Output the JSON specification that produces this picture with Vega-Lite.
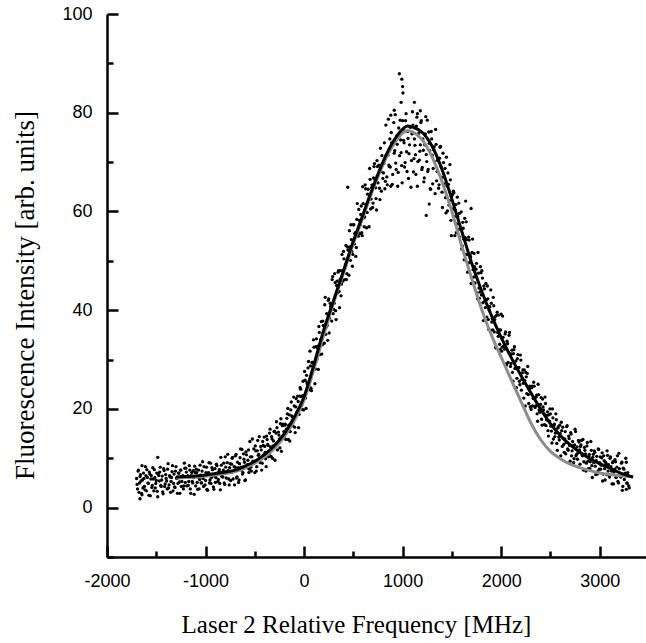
{
"$schema": "https://vega.github.io/schema/vega-lite/v6.json",
"width": 539, "height": 543,
"autosize": "none",
"padding": {"left": 107, "top": 14, "right": 0, "bottom": 86},
"background": "white",
"config": {"view": {"stroke": null}},
"datasets": {
"pts": [
{"x":-1700,"y":5.9},{"x":-1690,"y":3.8},{"x":-1680,"y":7.6},{"x":-1670,"y":5.0},{"x":-1660,"y":6.7},{"x":-1650,"y":2.9},{"x":-1640,"y":5.6},{"x":-1630,"y":7.0},{"x":-1620,"y":4.3},{"x":-1610,"y":8.3},{"x":-1600,"y":3.4},{"x":-1590,"y":6.1},{"x":-1580,"y":4.9},{"x":-1570,"y":7.2},{"x":-1560,"y":2.4},{"x":-1550,"y":6.5},{"x":-1540,"y":4.5},{"x":-1530,"y":5.8},{"x":-1520,"y":7.7},{"x":-1510,"y":4.0},{"x":-1500,"y":5.5},{"x":-1490,"y":3.3},{"x":-1480,"y":6.9},{"x":-1470,"y":5.4},{"x":-1460,"y":8.2},{"x":-1450,"y":4.3},{"x":-1440,"y":6.4},{"x":-1430,"y":2.8},{"x":-1420,"y":7.5},{"x":-1410,"y":4.8},{"x":-1400,"y":5.9},{"x":-1390,"y":3.8},{"x":-1380,"y":8.9},{"x":-1370,"y":4.6},{"x":-1360,"y":6.2},{"x":-1350,"y":5.3},{"x":-1340,"y":7.3},{"x":-1330,"y":3.4},{"x":-1320,"y":6.8},{"x":-1310,"y":4.1},{"x":-1300,"y":8.3},{"x":-1290,"y":5.9},{"x":-1280,"y":4.9},{"x":-1270,"y":7.0},{"x":-1260,"y":2.9},{"x":-1250,"y":7.6},{"x":-1240,"y":5.3},{"x":-1230,"y":6.5},{"x":-1220,"y":4.4},{"x":-1210,"y":8.0},
{"x":-1200,"y":8.0},{"x":-1190,"y":4.4},{"x":-1180,"y":6.5},{"x":-1170,"y":5.3},{"x":-1160,"y":7.6},{"x":-1150,"y":2.9},{"x":-1140,"y":7.1},{"x":-1130,"y":5.0},{"x":-1120,"y":6.1},{"x":-1110,"y":8.4},{"x":-1100,"y":4.4},{"x":-1090,"y":7.1},{"x":-1080,"y":3.7},{"x":-1070,"y":7.6},{"x":-1060,"y":5.7},{"x":-1050,"y":6.6},{"x":-1040,"y":5.0},{"x":-1030,"y":9.3},{"x":-1020,"y":4.3},{"x":-1010,"y":6.5},{"x":-1000,"y":5.5},{"x":-990,"y":8.2},{"x":-980,"y":3.5},{"x":-970,"y":7.1},{"x":-960,"y":5.0},{"x":-950,"y":9.0},{"x":-940,"y":6.1},{"x":-930,"y":7.7},{"x":-920,"y":4.2},{"x":-910,"y":6.4},{"x":-900,"y":5.1},{"x":-890,"y":8.8},{"x":-880,"y":6.9},{"x":-870,"y":5.7},{"x":-860,"y":7.7},{"x":-850,"y":3.6},{"x":-840,"y":8.6},{"x":-830,"y":6.3},{"x":-820,"y":7.6},{"x":-810,"y":5.0},{"x":-800,"y":10.3},{"x":-790,"y":6.0},{"x":-780,"y":9.1},{"x":-770,"y":7.5},{"x":-760,"y":4.6},{"x":-750,"y":8.9},{"x":-740,"y":7.1},{"x":-730,"y":10.0},{"x":-720,"y":5.8},{"x":-710,"y":8.3},
{"x":-700,"y":8.2},{"x":-690,"y":10.8},{"x":-680,"y":6.2},{"x":-670,"y":8.1},{"x":-660,"y":5.6},{"x":-650,"y":10.1},{"x":-640,"y":8.2},{"x":-630,"y":11.8},{"x":-620,"y":7.1},{"x":-610,"y":9.8},{"x":-600,"y":5.5},{"x":-590,"y":11.3},{"x":-580,"y":8.1},{"x":-570,"y":9.6},{"x":-560,"y":7.1},{"x":-550,"y":13.4},{"x":-540,"y":8.2},{"x":-530,"y":10.3},{"x":-520,"y":9.4},{"x":-510,"y":11.9},{"x":-500,"y":7.1},{"x":-490,"y":11.5},{"x":-480,"y":8.3},{"x":-470,"y":13.6},{"x":-460,"y":10.8},{"x":-450,"y":9.7},{"x":-440,"y":12.4},{"x":-430,"y":7.6},{"x":-420,"y":13.4},{"x":-410,"y":10.7},{"x":-400,"y":12.4},{"x":-390,"y":9.9},{"x":-380,"y":14.5},{"x":-370,"y":12.8},{"x":-360,"y":10.3},{"x":-350,"y":15.1},{"x":-340,"y":12.3},{"x":-330,"y":14.4},{"x":-320,"y":10.0},{"x":-310,"y":13.5},{"x":-300,"y":15.5},{"x":-290,"y":12.4},{"x":-280,"y":17.4},{"x":-270,"y":11.7},{"x":-260,"y":15.3},{"x":-250,"y":13.9},{"x":-240,"y":17.0},{"x":-230,"y":11.4},{"x":-220,"y":16.6},{"x":-210,"y":14.4},
{"x":-200,"y":14.3},{"x":-190,"y":16.9},{"x":-180,"y":15.9},{"x":-170,"y":19.0},{"x":-160,"y":13.8},{"x":-150,"y":18.8},{"x":-140,"y":15.4},{"x":-130,"y":21.4},{"x":-120,"y":18.4},{"x":-110,"y":17.3},{"x":-100,"y":20.6},{"x":-90,"y":15.2},{"x":-80,"y":22.1},{"x":-70,"y":19.4},{"x":-60,"y":21.5},{"x":-50,"y":18.9},{"x":-40,"y":24.3},{"x":-30,"y":22.5},{"x":-20,"y":19.9},{"x":-10,"y":25.6},{"x":0,"y":22.4},{"x":10,"y":25.8},{"x":20,"y":20.1},{"x":30,"y":25.3},{"x":40,"y":28.3},{"x":50,"y":24.5},{"x":60,"y":31.7},{"x":70,"y":24.2},{"x":80,"y":29.4},{"x":90,"y":27.9},{"x":100,"y":32.5},{"x":110,"y":25.1},{"x":120,"y":32.6},{"x":130,"y":30.0},{"x":140,"y":32.7},{"x":150,"y":36.7},{"x":160,"y":31.0},{"x":170,"y":34.1},{"x":180,"y":31.1},{"x":190,"y":37.8},{"x":200,"y":35.7},{"x":210,"y":41.1},{"x":220,"y":35.1},{"x":230,"y":39.3},{"x":240,"y":33.9},{"x":250,"y":42.3},{"x":260,"y":38.4},{"x":270,"y":40.8},{"x":280,"y":37.8},{"x":290,"y":46.8},
{"x":300,"y":40.2},{"x":310,"y":47.4},{"x":320,"y":39.9},{"x":330,"y":45.0},{"x":340,"y":43.5},{"x":350,"y":48.0},{"x":360,"y":40.5},{"x":370,"y":48.0},{"x":380,"y":45.3},{"x":390,"y":48.0},{"x":400,"y":51.9},{"x":410,"y":46.2},{"x":420,"y":49.2},{"x":430,"y":46.2},{"x":440,"y":52.8},{"x":450,"y":50.7},{"x":460,"y":56.1},{"x":470,"y":50.1},{"x":480,"y":54.3},{"x":490,"y":48.9},{"x":500,"y":57.3},{"x":510,"y":53.4},{"x":520,"y":55.7},{"x":530,"y":52.7},{"x":540,"y":61.6},{"x":550,"y":55.0},{"x":560,"y":58.2},{"x":570,"y":57.3},{"x":580,"y":61.1},{"x":590,"y":55.1},{"x":600,"y":61.6},{"x":610,"y":56.9},{"x":620,"y":65.4},{"x":630,"y":61.4},{"x":640,"y":59.8},{"x":650,"y":64.5},{"x":660,"y":56.9},{"x":670,"y":66.5},{"x":680,"y":62.5},{"x":690,"y":65.4},{"x":700,"y":61.7},{"x":710,"y":69.1},{"x":720,"y":66.4},{"x":730,"y":62.6},{"x":740,"y":70.3},{"x":750,"y":65.8},{"x":760,"y":69.4},{"x":770,"y":62.4},{"x":780,"y":68.1},{"x":790,"y":71.3},
{"x":800,"y":66.7},{"x":810,"y":69.7},{"x":820,"y":64.6},{"x":830,"y":77.5},{"x":840,"y":67.0},{"x":850,"y":71.4},{"x":860,"y":69.4},{"x":870,"y":74.7},{"x":880,"y":65.1},{"x":890,"y":73.9},{"x":900,"y":67.5},{"x":910,"y":78.0},{"x":920,"y":72.3},{"x":930,"y":69.8},{"x":940,"y":75.3},{"x":950,"y":65.1},{"x":960,"y":76.9},{"x":970,"y":71.3},{"x":980,"y":74.5},{"x":990,"y":69.3},{"x":1000,"y":78.4},{"x":1010,"y":74.4},{"x":1020,"y":69.0},{"x":1030,"y":78.4},{"x":1040,"y":72.1},{"x":1050,"y":76.2},{"x":1060,"y":66.7},{"x":1070,"y":73.5},{"x":1080,"y":77.1},{"x":1090,"y":70.3},{"x":1100,"y":80.2},{"x":1110,"y":68.0},{"x":1120,"y":74.7},{"x":1130,"y":71.5},{"x":1140,"y":77.3},{"x":1150,"y":65.1},{"x":1160,"y":75.4},{"x":1170,"y":70.4},{"x":1180,"y":73.5},{"x":1190,"y":78.4},{"x":1200,"y":68.9},{"x":1210,"y":72.4},{"x":1220,"y":66.8},{"x":1230,"y":75.7},{"x":1240,"y":71.5},{"x":1250,"y":78.5},{"x":1260,"y":68.5},{"x":1270,"y":73.8},{"x":1280,"y":64.6},{"x":1290,"y":76.2},
{"x":1300,"y":71.4},{"x":1310,"y":68.7},{"x":1320,"y":73.1},{"x":1330,"y":63.6},{"x":1340,"y":73.6},{"x":1350,"y":68.1},{"x":1360,"y":70.5},{"x":1370,"y":65.4},{"x":1380,"y":73.0},{"x":1390,"y":69.1},{"x":1400,"y":63.9},{"x":1410,"y":71.8},{"x":1420,"y":65.6},{"x":1430,"y":68.7},{"x":1440,"y":59.7},{"x":1450,"y":65.2},{"x":1460,"y":67.8},{"x":1470,"y":61.3},{"x":1480,"y":69.5},{"x":1490,"y":58.2},{"x":1500,"y":63.2},{"x":1510,"y":60.5},{"x":1520,"y":63.8},{"x":1530,"y":55.1},{"x":1540,"y":61.4},{"x":1550,"y":57.5},{"x":1560,"y":59.0},{"x":1570,"y":61.7},{"x":1580,"y":54.8},{"x":1590,"y":56.6},{"x":1600,"y":52.4},{"x":1610,"y":57.8},{"x":1620,"y":54.4},{"x":1630,"y":58.6},{"x":1640,"y":51.3},{"x":1650,"y":54.3},{"x":1660,"y":47.7},{"x":1670,"y":54.8},{"x":1680,"y":49.7},{"x":1690,"y":50.8},{"x":1700,"y":46.6},{"x":1710,"y":54.4},{"x":1720,"y":46.7},{"x":1730,"y":48.8},{"x":1740,"y":46.8},{"x":1750,"y":49.5},{"x":1760,"y":42.3},{"x":1770,"y":47.5},{"x":1780,"y":42.4},{"x":1790,"y":48.8},
{"x":1800,"y":43.1},{"x":1810,"y":46.5},{"x":1820,"y":37.9},{"x":1830,"y":44.3},{"x":1840,"y":40.5},{"x":1850,"y":42.1},{"x":1860,"y":44.9},{"x":1870,"y":38.1},{"x":1880,"y":40.0},{"x":1890,"y":35.9},{"x":1900,"y":41.4},{"x":1910,"y":38.3},{"x":1920,"y":42.6},{"x":1930,"y":35.6},{"x":1940,"y":38.7},{"x":1950,"y":32.3},{"x":1960,"y":39.6},{"x":1970,"y":34.7},{"x":1980,"y":36.0},{"x":1990,"y":32.0},{"x":2000,"y":39.2},{"x":2010,"y":32.5},{"x":2020,"y":34.5},{"x":2030,"y":32.8},{"x":2040,"y":35.2},{"x":2050,"y":29.1},{"x":2060,"y":33.7},{"x":2070,"y":29.4},{"x":2080,"y":34.9},{"x":2090,"y":31.2},{"x":2100,"y":29.2},{"x":2110,"y":31.9},{"x":2120,"y":25.6},{"x":2130,"y":32.0},{"x":2140,"y":28.2},{"x":2150,"y":29.7},{"x":2160,"y":26.2},{"x":2170,"y":31.0},{"x":2180,"y":28.4},{"x":2190,"y":24.9},{"x":2200,"y":29.9},{"x":2210,"y":26.0},{"x":2220,"y":27.9},{"x":2230,"y":22.2},{"x":2240,"y":25.7},{"x":2250,"y":27.4},{"x":2260,"y":23.1},{"x":2270,"y":28.6},{"x":2280,"y":21.1},{"x":2290,"y":24.6},
{"x":2300,"y":20.4},{"x":2310,"y":24.3},{"x":2320,"y":20.6},{"x":2330,"y":25.4},{"x":2340,"y":22.2},{"x":2350,"y":20.6},{"x":2360,"y":22.8},{"x":2370,"y":17.5},{"x":2380,"y":22.9},{"x":2390,"y":19.6},{"x":2400,"y":20.9},{"x":2410,"y":17.9},{"x":2420,"y":22.0},{"x":2430,"y":19.8},{"x":2440,"y":16.8},{"x":2450,"y":21.1},{"x":2460,"y":17.8},{"x":2470,"y":19.4},{"x":2480,"y":14.5},{"x":2490,"y":17.5},{"x":2500,"y":19.0},{"x":2510,"y":15.5},{"x":2520,"y":20.0},{"x":2530,"y":13.9},{"x":2540,"y":16.9},{"x":2550,"y":15.1},{"x":2560,"y":17.8},{"x":2570,"y":11.6},{"x":2580,"y":16.4},{"x":2590,"y":13.7},{"x":2600,"y":15.0},{"x":2610,"y":17.3},{"x":2620,"y":12.4},{"x":2630,"y":14.0},{"x":2640,"y":11.2},{"x":2650,"y":15.4},{"x":2660,"y":13.2},{"x":2670,"y":16.6},{"x":2680,"y":11.6},{"x":2690,"y":14.0},{"x":2700,"y":9.4},{"x":2710,"y":14.9},{"x":2720,"y":11.5},{"x":2730,"y":12.6},{"x":2740,"y":9.9},{"x":2750,"y":15.9},{"x":2760,"y":10.5},{"x":2770,"y":12.3},{"x":2780,"y":11.1},{"x":2790,"y":13.3},
{"x":2800,"y":8.8},{"x":2810,"y":12.7},{"x":2820,"y":10.7},{"x":2830,"y":13.8},{"x":2840,"y":9.3},{"x":2850,"y":11.6},{"x":2860,"y":7.4},{"x":2870,"y":12.5},{"x":2880,"y":9.4},{"x":2890,"y":10.4},{"x":2900,"y":7.9},{"x":2910,"y":13.4},{"x":2920,"y":8.5},{"x":2930,"y":10.2},{"x":2940,"y":9.1},{"x":2950,"y":11.2},{"x":2960,"y":6.7},{"x":2970,"y":10.4},{"x":2980,"y":7.3},{"x":2990,"y":11.8},{"x":3000,"y":9.1},{"x":3010,"y":7.8},{"x":3020,"y":10.1},{"x":3030,"y":5.4},{"x":3040,"y":10.5},{"x":3050,"y":7.9},{"x":3060,"y":9.2},{"x":3070,"y":6.7},{"x":3080,"y":10.6},{"x":3090,"y":8.7},{"x":3100,"y":6.2},{"x":3110,"y":10.3},{"x":3120,"y":7.4},{"x":3130,"y":9.1},{"x":3140,"y":4.8},{"x":3150,"y":7.8},{"x":3160,"y":9.3},{"x":3170,"y":6.2},{"x":3180,"y":10.5},{"x":3190,"y":5.0},{"x":3200,"y":7.9},{"x":3210,"y":6.4},{"x":3220,"y":9.0},{"x":3230,"y":3.5},{"x":3240,"y":8.0},{"x":3250,"y":5.7},{"x":3260,"y":7.0},{"x":3270,"y":9.2},{"x":3280,"y":4.9},{"x":3290,"y":6.4},{"x":3300,"y":4.0},
{"x":967,"y":87.9},{"x":992,"y":86.8},{"x":1000,"y":85.3},{"x":1003,"y":84.0},{"x":985,"y":82.1},{"x":1120,"y":82.1},{"x":915,"y":80.5},{"x":1150,"y":79.8},{"x":880,"y":79.5},{"x":1180,"y":80.4},{"x":-1485,"y":10.2},{"x":-1665,"y":1.8},{"x":-1645,"y":2.6},{"x":1240,"y":59.2},{"x":1270,"y":61.5},{"x":1695,"y":60.6},{"x":1640,"y":62.1},{"x":443,"y":64.9},{"x":3270,"y":3.7},
{"x":-1695,"y":4.7},{"x":-1685,"y":7.4},{"x":-1675,"y":3.1},{"x":-1665,"y":6.3},{"x":-1655,"y":5.4},{"x":-1645,"y":8.5},{"x":-1635,"y":4.0},{"x":-1625,"y":5.9},{"x":-1615,"y":3.6},{"x":-1605,"y":6.5},{"x":-1595,"y":7.7},{"x":-1585,"y":5.0},{"x":-1575,"y":2.5},{"x":-1565,"y":6.8},{"x":-1555,"y":5.8},{"x":-1545,"y":4.1},{"x":-1535,"y":8.1},{"x":-1525,"y":3.4},{"x":-1515,"y":6.1},{"x":-1505,"y":4.9},{"x":-1495,"y":7.0},{"x":-1485,"y":2.2},{"x":-1475,"y":6.5},{"x":-1465,"y":7.2},{"x":-1455,"y":4.5},{"x":-1445,"y":5.6},{"x":-1435,"y":3.2},{"x":-1425,"y":7.9},{"x":-1415,"y":4.3},{"x":-1405,"y":6.7},{"x":-1395,"y":5.4},{"x":-1385,"y":7.8},{"x":-1375,"y":4.0},{"x":-1365,"y":6.5},{"x":-1355,"y":3.1},{"x":-1345,"y":6.1},{"x":-1335,"y":8.5},{"x":-1325,"y":4.9},{"x":-1315,"y":4.2},{"x":-1305,"y":7.4},{"x":-1295,"y":6.0},{"x":-1285,"y":2.9},{"x":-1275,"y":7.0},{"x":-1265,"y":5.2},{"x":-1255,"y":7.6},{"x":-1245,"y":4.3},{"x":-1235,"y":6.3},{"x":-1225,"y":3.8},{"x":-1215,"y":9.0},{"x":-1205,"y":5.1},
{"x":-1195,"y":7.2},{"x":-1185,"y":6.2},{"x":-1175,"y":4.5},{"x":-1165,"y":8.5},{"x":-1155,"y":3.8},{"x":-1145,"y":6.5},{"x":-1135,"y":5.3},{"x":-1125,"y":7.5},{"x":-1115,"y":2.7},{"x":-1105,"y":7.1},{"x":-1095,"y":7.8},{"x":-1085,"y":5.1},{"x":-1075,"y":6.2},{"x":-1065,"y":3.8},{"x":-1055,"y":8.6},{"x":-1045,"y":5.0},{"x":-1035,"y":7.4},{"x":-1025,"y":5.9},{"x":-1015,"y":8.3},{"x":-1005,"y":4.6},{"x":-995,"y":7.1},{"x":-985,"y":3.7},{"x":-975,"y":6.7},{"x":-965,"y":9.1},{"x":-955,"y":5.6},{"x":-945,"y":4.9},{"x":-935,"y":8.1},{"x":-925,"y":6.7},{"x":-915,"y":3.7},{"x":-905,"y":7.9},{"x":-895,"y":6.1},{"x":-885,"y":8.5},{"x":-875,"y":5.3},{"x":-865,"y":7.3},{"x":-855,"y":4.9},{"x":-845,"y":10.2},{"x":-835,"y":6.3},{"x":-825,"y":6.2},{"x":-815,"y":9.0},{"x":-805,"y":4.7},{"x":-795,"y":8.2},{"x":-785,"y":7.3},{"x":-775,"y":10.8},{"x":-765,"y":5.8},{"x":-755,"y":8.1},{"x":-745,"y":5.5},{"x":-735,"y":8.8},{"x":-725,"y":10.2},{"x":-715,"y":7.3},{"x":-705,"y":4.6},
{"x":-695,"y":10.5},{"x":-685,"y":6.0},{"x":-675,"y":9.2},{"x":-665,"y":5.1},{"x":-655,"y":8.9},{"x":-645,"y":11.9},{"x":-635,"y":7.6},{"x":-625,"y":6.8},{"x":-615,"y":10.9},{"x":-605,"y":9.2},{"x":-595,"y":5.6},{"x":-585,"y":10.7},{"x":-575,"y":8.7},{"x":-565,"y":11.7},{"x":-555,"y":7.8},{"x":-545,"y":10.3},{"x":-535,"y":7.4},{"x":-525,"y":13.9},{"x":-515,"y":9.2},{"x":-505,"y":9.1},{"x":-495,"y":12.5},{"x":-485,"y":7.4},{"x":-475,"y":11.5},{"x":-465,"y":10.6},{"x":-455,"y":14.4},{"x":-445,"y":9.1},{"x":-435,"y":11.7},{"x":-425,"y":9.0},{"x":-415,"y":12.6},{"x":-405,"y":14.3},{"x":-395,"y":11.2},{"x":-385,"y":8.3},{"x":-375,"y":13.8},{"x":-365,"y":12.6},{"x":-355,"y":10.9},{"x":-345,"y":15.9},{"x":-335,"y":10.4},{"x":-325,"y":13.9},{"x":-315,"y":12.5},{"x":-305,"y":15.4},{"x":-295,"y":9.6},{"x":-285,"y":15.1},{"x":-275,"y":16.2},{"x":-265,"y":13.2},{"x":-255,"y":14.7},{"x":-245,"y":12.1},{"x":-235,"y":18.0},{"x":-225,"y":13.9},{"x":-215,"y":16.9},{"x":-205,"y":15.4},
{"x":-195,"y":16.7},{"x":-185,"y":13.8},{"x":-175,"y":18.1},{"x":-165,"y":20.1},{"x":-155,"y":16.7},{"x":-145,"y":13.5},{"x":-135,"y":19.8},{"x":-125,"y":18.6},{"x":-115,"y":16.6},{"x":-105,"y":22.4},{"x":-95,"y":16.3},{"x":-85,"y":20.4},{"x":-75,"y":19.1},{"x":-65,"y":22.6},{"x":-55,"y":16.2},{"x":-45,"y":22.6},{"x":-35,"y":24.0},{"x":-25,"y":20.7},{"x":-15,"y":22.7},{"x":-5,"y":19.8},{"x":5,"y":27.6},{"x":15,"y":22.2},{"x":25,"y":26.8},{"x":35,"y":25.0},{"x":45,"y":29.6},{"x":55,"y":23.9},{"x":65,"y":28.7},{"x":75,"y":23.7},{"x":85,"y":29.4},{"x":95,"y":34.0},{"x":105,"y":28.7},{"x":115,"y":28.1},{"x":125,"y":34.2},{"x":135,"y":32.4},{"x":145,"y":28.0},{"x":155,"y":35.5},{"x":165,"y":33.2},{"x":175,"y":37.7},{"x":185,"y":33.0},{"x":195,"y":36.9},{"x":205,"y":33.3},{"x":215,"y":42.6},{"x":225,"y":36.6},{"x":235,"y":36.9},{"x":245,"y":42.0},{"x":255,"y":35.4},{"x":265,"y":41.4},{"x":275,"y":40.5},{"x":285,"y":46.2},{"x":295,"y":39.3},
{"x":305,"y":41.4},{"x":315,"y":45.6},{"x":325,"y":38.1},{"x":335,"y":45.9},{"x":345,"y":47.7},{"x":355,"y":43.8},{"x":365,"y":46.2},{"x":375,"y":42.9},{"x":385,"y":51.3},{"x":395,"y":45.9},{"x":405,"y":50.4},{"x":415,"y":48.6},{"x":425,"y":53.1},{"x":435,"y":47.4},{"x":445,"y":52.2},{"x":455,"y":47.1},{"x":465,"y":52.8},{"x":475,"y":57.3},{"x":485,"y":51.9},{"x":495,"y":51.3},{"x":505,"y":57.3},{"x":515,"y":55.5},{"x":525,"y":50.9},{"x":535,"y":58.4},{"x":545,"y":55.9},{"x":555,"y":60.4},{"x":565,"y":55.5},{"x":575,"y":59.4},{"x":585,"y":55.7},{"x":595,"y":65.0},{"x":605,"y":58.7},{"x":615,"y":58.9},{"x":625,"y":64.6},{"x":635,"y":56.7},{"x":645,"y":63.5},{"x":655,"y":62.3},{"x":665,"y":68.7},{"x":675,"y":60.5},{"x":685,"y":64.8},{"x":695,"y":60.8},{"x":705,"y":66.8},{"x":715,"y":69.7},{"x":725,"y":64.8},{"x":735,"y":60.3},{"x":745,"y":69.1},{"x":755,"y":67.4},{"x":765,"y":64.7},{"x":775,"y":72.8},{"x":785,"y":64.1},{"x":795,"y":69.7},
{"x":805,"y":67.8},{"x":815,"y":73.9},{"x":825,"y":66.1},{"x":835,"y":71.4},{"x":845,"y":65.4},{"x":855,"y":78.7},{"x":865,"y":69.1},{"x":875,"y":69.0},{"x":885,"y":76.0},{"x":895,"y":65.5},{"x":905,"y":73.9},{"x":915,"y":71.8},{"x":925,"y":79.6},{"x":935,"y":68.5},{"x":945,"y":73.6},{"x":955,"y":67.9},{"x":965,"y":75.2},{"x":975,"y":78.5},{"x":985,"y":71.9},{"x":995,"y":65.8},{"x":1005,"y":76.6},{"x":1015,"y":73.9},{"x":1025,"y":69.9},{"x":1035,"y":79.8},{"x":1045,"y":68.1},{"x":1055,"y":74.8},{"x":1065,"y":71.7},{"x":1075,"y":77.1},{"x":1085,"y":64.9},{"x":1095,"y":75.7},{"x":1105,"y":77.5},{"x":1115,"y":70.7},{"x":1125,"y":73.4},{"x":1135,"y":67.5},{"x":1145,"y":79.1},{"x":1155,"y":70.1},{"x":1165,"y":75.9},{"x":1175,"y":72.2},{"x":1185,"y":78.0},{"x":1195,"y":68.5},{"x":1205,"y":74.7},{"x":1215,"y":66.0},{"x":1225,"y":73.5},{"x":1235,"y":79.2},{"x":1245,"y":70.1},{"x":1255,"y":68.1},{"x":1265,"y":76.1},{"x":1275,"y":72.3},{"x":1285,"y":64.5},{"x":1295,"y":74.7},
{"x":1305,"y":65.6},{"x":1315,"y":72.5},{"x":1325,"y":70.1},{"x":1335,"y":76.6},{"x":1345,"y":66.2},{"x":1355,"y":70.3},{"x":1365,"y":64.7},{"x":1375,"y":70.8},{"x":1385,"y":73.2},{"x":1395,"y":66.9},{"x":1405,"y":60.8},{"x":1415,"y":69.9},{"x":1425,"y":66.9},{"x":1435,"y":62.8},{"x":1445,"y":71.0},{"x":1455,"y":60.1},{"x":1465,"y":65.5},{"x":1475,"y":62.2},{"x":1485,"y":66.4},{"x":1495,"y":55.1},{"x":1505,"y":63.5},{"x":1515,"y":64.1},{"x":1525,"y":59.0},{"x":1535,"y":60.2},{"x":1545,"y":55.7},{"x":1555,"y":62.9},{"x":1565,"y":56.3},{"x":1575,"y":59.6},{"x":1585,"y":56.6},{"x":1595,"y":59.9},{"x":1605,"y":53.0},{"x":1615,"y":56.6},{"x":1625,"y":50.2},{"x":1635,"y":54.7},{"x":1645,"y":57.9},{"x":1655,"y":51.3},{"x":1665,"y":49.5},{"x":1675,"y":54.2},{"x":1685,"y":51.2},{"x":1695,"y":45.4},{"x":1705,"y":51.7},{"x":1715,"y":48.2},{"x":1725,"y":51.5},{"x":1735,"y":45.5},{"x":1745,"y":48.3},{"x":1755,"y":43.5},{"x":1765,"y":51.7},{"x":1775,"y":44.5},{"x":1785,"y":43.7},{"x":1795,"y":47.6},
{"x":1805,"y":48.0},{"x":1815,"y":41.5},{"x":1825,"y":44.9},{"x":1835,"y":41.9},{"x":1845,"y":45.4},{"x":1855,"y":38.6},{"x":1865,"y":42.3},{"x":1875,"y":36.1},{"x":1885,"y":40.7},{"x":1895,"y":44.1},{"x":1905,"y":37.6},{"x":1915,"y":36.0},{"x":1925,"y":40.9},{"x":1935,"y":38.1},{"x":1945,"y":32.5},{"x":1955,"y":39.0},{"x":1965,"y":35.5},{"x":1975,"y":39.0},{"x":1985,"y":33.1},{"x":1995,"y":36.0},{"x":2005,"y":31.7},{"x":2015,"y":38.8},{"x":2025,"y":32.7},{"x":2035,"y":32.1},{"x":2045,"y":35.6},{"x":2055,"y":28.9},{"x":2065,"y":33.2},{"x":2075,"y":31.5},{"x":2085,"y":35.5},{"x":2095,"y":28.6},{"x":2105,"y":31.1},{"x":2115,"y":27.4},{"x":2125,"y":31.2},{"x":2135,"y":32.6},{"x":2145,"y":28.3},{"x":2155,"y":24.3},{"x":2165,"y":30.2},{"x":2175,"y":28.3},{"x":2185,"y":25.6},{"x":2195,"y":30.9},{"x":2205,"y":23.8},{"x":2215,"y":27.3},{"x":2225,"y":25.2},{"x":2235,"y":27.9},{"x":2245,"y":20.6},{"x":2255,"y":26.5},{"x":2265,"y":27.2},{"x":2275,"y":22.9},{"x":2285,"y":24.1},{"x":2295,"y":20.4},
{"x":2305,"y":19.9},{"x":2315,"y":24.6},{"x":2325,"y":22.1},{"x":2335,"y":24.6},{"x":2345,"y":20.3},{"x":2355,"y":22.4},{"x":2365,"y":19.0},{"x":2375,"y":25.0},{"x":2385,"y":19.8},{"x":2395,"y":19.3},{"x":2405,"y":22.3},{"x":2415,"y":16.7},{"x":2425,"y":20.4},{"x":2435,"y":19.0},{"x":2445,"y":22.4},{"x":2455,"y":16.6},{"x":2465,"y":18.7},{"x":2475,"y":15.6},{"x":2485,"y":18.8},{"x":2495,"y":20.0},{"x":2505,"y":16.5},{"x":2515,"y":13.1},{"x":2525,"y":18.2},{"x":2535,"y":16.6},{"x":2545,"y":14.4},{"x":2555,"y":19.0},{"x":2565,"y":13.0},{"x":2575,"y":16.1},{"x":2585,"y":14.3},{"x":2595,"y":16.7},{"x":2605,"y":10.5},{"x":2615,"y":15.6},{"x":2625,"y":16.3},{"x":2635,"y":12.8},{"x":2645,"y":13.9},{"x":2655,"y":10.9},{"x":2665,"y":16.4},{"x":2675,"y":11.9},{"x":2685,"y":14.5},{"x":2695,"y":12.6},{"x":2705,"y":15.2},{"x":2715,"y":10.5},{"x":2725,"y":13.4},{"x":2735,"y":9.1},{"x":2745,"y":12.7},{"x":2755,"y":15.4},{"x":2765,"y":10.8},{"x":2775,"y":9.8},{"x":2785,"y":13.6},{"x":2795,"y":11.7},
{"x":2805,"y":12.4},{"x":2815,"y":13.6},{"x":2825,"y":10.5},{"x":2835,"y":7.6},{"x":2845,"y":12.2},{"x":2855,"y":10.9},{"x":2865,"y":9.0},{"x":2875,"y":13.2},{"x":2885,"y":7.9},{"x":2895,"y":10.8},{"x":2905,"y":9.3},{"x":2915,"y":11.6},{"x":2925,"y":6.1},{"x":2935,"y":10.8},{"x":2945,"y":11.5},{"x":2955,"y":8.4},{"x":2965,"y":9.5},{"x":2975,"y":6.8},{"x":2985,"y":11.9},{"x":2995,"y":7.8},{"x":3005,"y":10.3},{"x":3015,"y":8.6},{"x":3025,"y":11.1},{"x":3035,"y":6.8},{"x":3045,"y":9.5},{"x":3055,"y":5.6},{"x":3065,"y":8.9},{"x":3075,"y":11.5},{"x":3085,"y":7.4},{"x":3095,"y":6.5},{"x":3105,"y":10.0},{"x":3115,"y":8.3},{"x":3125,"y":4.8},{"x":3135,"y":9.3},{"x":3145,"y":7.2},{"x":3155,"y":9.7},{"x":3165,"y":6.1},{"x":3175,"y":8.2},{"x":3185,"y":5.3},{"x":3195,"y":11.0},{"x":3205,"y":6.5},{"x":3215,"y":6.2},{"x":3225,"y":9.2},{"x":3235,"y":4.3},{"x":3245,"y":7.8},{"x":3255,"y":6.7},{"x":3265,"y":10.0},{"x":3275,"y":5.0},{"x":3285,"y":7.1},{"x":3295,"y":4.4}
],
"fitGray": [
{"x":-1300,"y":6.0},{"x":-1200,"y":6.1},{"x":-1100,"y":6.2},{"x":-1000,"y":6.4},{"x":-900,"y":6.6},{"x":-800,"y":6.9},{"x":-700,"y":7.3},{"x":-600,"y":8.0},{"x":-500,"y":9.0},{"x":-400,"y":10.3},{"x":-300,"y":12.0},{"x":-200,"y":14.4},{"x":-100,"y":17.6},{"x":0,"y":21.8},{"x":100,"y":28},{"x":200,"y":35},{"x":300,"y":41.5},{"x":400,"y":47.5},{"x":500,"y":53.5},{"x":600,"y":59},{"x":700,"y":64.5},{"x":800,"y":69.5},{"x":900,"y":73.3},{"x":1000,"y":75.9},{"x":1050,"y":76.4},{"x":1100,"y":76.1},{"x":1200,"y":74.5},{"x":1300,"y":71},{"x":1400,"y":66},{"x":1500,"y":60},{"x":1600,"y":53},{"x":1700,"y":46.5},{"x":1800,"y":40.3},{"x":1900,"y":35},{"x":2000,"y":30.5},{"x":2100,"y":26.0},{"x":2200,"y":21.6},{"x":2300,"y":17.2},{"x":2400,"y":13.8},{"x":2500,"y":11.4},{"x":2600,"y":9.9},{"x":2700,"y":8.8},{"x":2800,"y":8.1},{"x":2900,"y":7.5},{"x":3000,"y":7.0},{"x":3100,"y":6.7},{"x":3200,"y":6.5},{"x":3290,"y":6.3}
],
"fitBlack": [
{"x":-1300,"y":6.2},{"x":-1200,"y":6.3},{"x":-1100,"y":6.4},{"x":-1000,"y":6.6},{"x":-900,"y":6.9},{"x":-800,"y":7.2},{"x":-700,"y":7.6},{"x":-600,"y":8.4},{"x":-500,"y":9.4},{"x":-400,"y":10.8},{"x":-300,"y":12.6},{"x":-200,"y":15.0},{"x":-100,"y":18.3},{"x":0,"y":22.5},{"x":100,"y":29},{"x":200,"y":36},{"x":300,"y":42},{"x":400,"y":48},{"x":500,"y":54},{"x":600,"y":59.5},{"x":700,"y":65},{"x":800,"y":70},{"x":900,"y":74},{"x":1000,"y":76.7},{"x":1050,"y":77.3},{"x":1100,"y":77.1},{"x":1200,"y":76},{"x":1300,"y":73.2},{"x":1400,"y":68.5},{"x":1500,"y":62.5},{"x":1600,"y":56},{"x":1700,"y":49.6},{"x":1800,"y":44},{"x":1900,"y":39},{"x":2000,"y":34.5},{"x":2100,"y":30.5},{"x":2200,"y":26.8},{"x":2300,"y":23.3},{"x":2400,"y":20},{"x":2500,"y":17},{"x":2600,"y":14.6},{"x":2700,"y":12.7},{"x":2800,"y":11.2},{"x":2900,"y":9.9},{"x":3000,"y":8.9},{"x":3100,"y":8},{"x":3200,"y":7.1},{"x":3300,"y":6.4},{"x":3340,"y":6.2}
]
},
"layer": [
{"data": {"name": "pts"},
 "mark": {"type": "circle", "size": 11, "color": "black", "opacity": 1},
 "encoding": {
  "x": {"field": "x", "type": "quantitative",
   "scale": {"domain": [-2000, 3470], "nice": false, "zero": false},
   "axis": {"values": [-2000,-1500,-1000,-500,0,500,1000,1500,2000,2500,3000],
    "title": "Laser 2 Relative Frequency [MHz]",
    "labelExpr": "datum.value % 1000 === 0 ? datum.value + '' : ''",
    "tickSize": {"condition": {"test": "datum.value % 1000 === 0", "value": -11}, "value": -6},
    "labelPadding": 26, "grid": false, "domainColor": "black", "domainWidth": 2.5,
    "tickColor": "black", "tickWidth": 2.5, "labelFont": "Liberation Sans", "labelFontSize": 18,
    "labelColor": "black", "labelFlush": false, "labelOverlap": false,
    "titleFont": "Liberation Serif", "titleFontSize": 25, "titleFontWeight": "normal", "titleColor": "black",
    "titleX": 249, "titleY": 75, "titleBaseline": "alphabetic"}},
  "y": {"field": "y", "type": "quantitative",
   "scale": {"domain": [-10, 100], "nice": false, "zero": false},
   "axis": {"values": [-10,0,10,20,30,40,50,60,70,80,90,100],
    "title": "Fluorescence Intensity [arb. units]",
    "labelExpr": "datum.value % 20 === 0 ? datum.value + '' : ''",
    "tickSize": {"condition": {"test": "datum.value % 20 === 0", "value": -11}, "value": -6},
    "labelPadding": 26, "grid": false, "domainColor": "black", "domainWidth": 2.5,
    "tickColor": "black", "tickWidth": 2.5, "labelFont": "Liberation Sans", "labelFontSize": 18,
    "labelColor": "black", "labelFlush": false, "labelOverlap": false,
    "titleFont": "Liberation Serif", "titleFontSize": 27, "titleFontWeight": "normal", "titleColor": "black",
    "titleX": -74, "titleY": 281, "titleBaseline": "alphabetic", "titleAngle": 270}}
 }},
{"data": {"name": "fitGray"},
 "mark": {"type": "line", "color": "#8c8c8c", "strokeWidth": 3, "interpolate": "monotone"},
 "encoding": {"x": {"field": "x", "type": "quantitative"}, "y": {"field": "y", "type": "quantitative"}}},
{"data": {"name": "fitBlack"},
 "mark": {"type": "line", "color": "black", "strokeWidth": 3, "interpolate": "monotone"},
 "encoding": {"x": {"field": "x", "type": "quantitative"}, "y": {"field": "y", "type": "quantitative"}}}
]
}
